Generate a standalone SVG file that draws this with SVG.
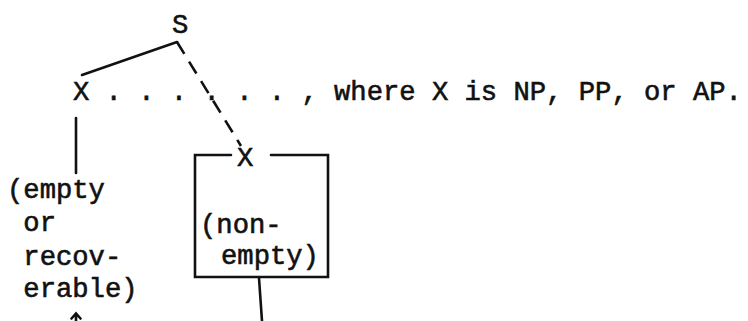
<svg xmlns="http://www.w3.org/2000/svg" width="748" height="321" viewBox="0 0 748 321">
<style>
text{font-family:"Liberation Mono","DejaVu Sans Mono",monospace;font-size:27.2px;fill:#111;stroke:#111;stroke-width:0.6px;}
.ln{stroke:#111;stroke-width:2.6;fill:none;stroke-linecap:round;}
.dash{stroke-dasharray:14 9;stroke-linecap:butt;}
</style>
<rect width="748" height="321" fill="#fff"/>
<g id="connectors">
<path class="ln" d="M82,75 L177,42"/>
<path class="ln dash" d="M177,42 L241,146"/>
<path class="ln" d="M76,118 L76,173"/>
<path class="ln" d="M259,278 L262,321"/>
<path class="ln" d="M76,314 L76,321 M71.5,318.5 L76,313.5 L80.5,318.5"/>
</g>
<g id="node-S"><text x="172" y="33">S</text></g>
<g id="node-X-left"><text x="73" y="100">X</text></g>
<g id="note"><text x="89.3" y="100" xml:space="preserve"> . . . . . . , where X is NP, PP, or AP.</text></g>
<g id="label-left">
<text x="7" y="198">(empty</text>
<text x="7" y="231" xml:space="preserve"> or</text>
<text x="7" y="265" xml:space="preserve"> recov-</text>
<text x="7" y="297" xml:space="preserve"> erable)</text>
</g>
<g id="node-X-right">
<path class="ln" d="M231,155 L195,155 L195,277 L328,277 L328,155 L271,155"/>
<text x="237" y="166">X</text>
<text x="200" y="233">(non-</text>
<text x="221" y="264">empty)</text>
</g>
</svg>
